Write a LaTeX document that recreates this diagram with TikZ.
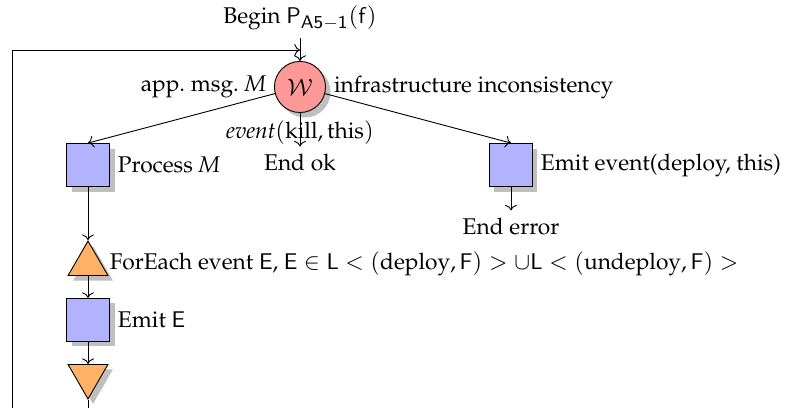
\documentclass[tikz,border=0pt]{standalone}
\usepackage[T1]{fontenc}
\usepackage{mathpazo}
\usetikzlibrary{arrows.meta,shapes.geometric,shadows}

\begin{document}
\begin{tikzpicture}[>=To,
  shd/.style={drop shadow={shadow xshift=2.2pt,shadow yshift=-2.2pt}},
  act/.style={draw,fill=blue!30,minimum size=0.665cm,inner sep=0pt,shd},
  wait/.style={circle,draw,fill=red!40,minimum size=0.79cm,inner sep=0pt,shd},
  fork/.style={regular polygon,regular polygon sides=3,draw,fill=orange!60,minimum size=0.711cm,inner sep=0pt,shd},
  merge/.style={fork,shape border rotate=180}]
\clip (0,0) rectangle (12.294,-6.294);
\node (begin) at (4.639,-0.278) {Begin $\mathsf{P}_{\mathsf{A5-1}}(\mathsf{f})$};
\node[wait,label={left:$\mathrm{app.\ msg.}$ \textit{M}},label={right:$\mathrm{infrastructure\ inconsistency}$},
  label={below:\textit{event}$(\mathrm{kill}, \mathrm{this})$}] (w) at (4.639,-1.345) {$\mathcal{W}$};
\node (ok) at (4.639,-2.521) {End ok};
\node[act,label={right:Process \textit{M}}] (p) at (1.361,-2.552) {};
\node[act,label={right:Emit event(deploy, this)}] (d) at (7.902,-2.552) {};
\node (err) at (7.902,-3.510) {End error};
\node[fork,label={right:ForEach event $\mathsf{E}$, $\mathsf{E}\in \mathsf{L}<(\mathrm{deploy},\mathsf{F})>\cup \mathsf{L}<(\mathrm{undeploy},\mathsf{F})>$}] (fe) at (1.361,-4.083) {};
\node[act,label={right:Emit $\mathsf{E}$}] (e) at (1.361,-4.948) {};
\node[merge] (fm) at (1.361,-5.814) {};
\coordinate (loop) at (4.639,-0.773);
\draw[->] (begin) -- (w);
\draw[->] (w) -- (p.north); \draw[->] (w) -- (ok); \draw[->] (w) -- (d.north);
\draw[->] (d) -- (err);
\draw[->] (p) -- (fe.north); \draw[->] (fe.south) -- (e); \draw[->] (e) -- (fm.north);
\draw[->] (fm.south) -- (1.361,-6.6) -| (0.186,-0.773) -- (loop);
\end{tikzpicture}
\end{document}
